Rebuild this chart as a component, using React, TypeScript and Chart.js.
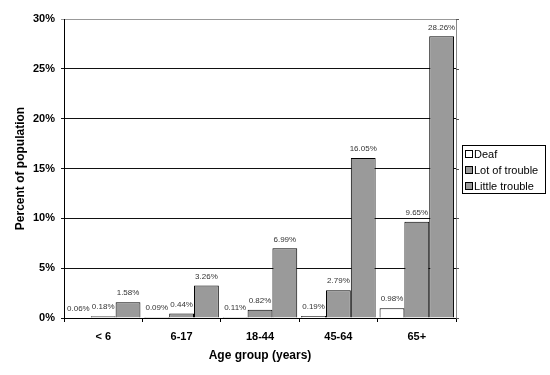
import React, { useEffect, useRef } from "react";
import { Chart, registerables } from "chart.js";

Chart.register(...registerables);

const categories = ["< 6", "6-17", "18-44", "45-64", "65+"];
const deaf = [0.06, 0.09, 0.11, 0.19, 0.98];
const lotOfTrouble = [0.18, 0.44, 0.82, 2.79, 9.65];
const littleTrouble = [1.58, 3.26, 6.99, 16.05, 28.26];
const seriesNames = ["Deaf", "Lot of trouble", "Little trouble"];
const yTicks = [0, 5, 10, 15, 20, 25, 30];

const FONT = "'Liberation Sans', Arial, sans-serif";
const fills = ["#ffffff", "#9a9a9a", "#9a9a9a"];

const labelsPlugin = {
  id: "valueLabels",
  afterDatasetsDraw(chart: any) {
    const ctx = chart.ctx;
    ctx.save();
    ctx.font = `8px ${FONT}`;
    ctx.fillStyle = "#333";
    ctx.textAlign = "center";
    ctx.textBaseline = "middle";
    chart.data.datasets.forEach((ds: any, i: number) => {
      const meta = chart.getDatasetMeta(i);
      meta.data.forEach((el: any, j: number) => {
        ctx.fillText(ds.data[j].toFixed(2) + "%", el.x, el.y - 9);
      });
    });
    ctx.restore();
  },
};

const framePlugin = {
  id: "frameLegend",
  afterDraw(chart: any) {
    const ctx = chart.ctx;
    const a = chart.chartArea;
    const y = chart.scales.y;
    ctx.save();
    ctx.strokeStyle = "#888";
    ctx.lineWidth = 1;
    ctx.beginPath();
    ctx.moveTo(Math.round(a.right) + 0.5, a.top);
    ctx.lineTo(Math.round(a.right) + 0.5, a.bottom);
    ctx.stroke();
    ctx.strokeStyle = "#555";
    yTicks.forEach((t) => {
      const py = Math.round(y.getPixelForValue(t)) + 0.5;
      ctx.beginPath();
      ctx.moveTo(a.right, py);
      ctx.lineTo(a.right + 3, py);
      ctx.stroke();
    });
    // legend
    const bx = 462.5, by = 145.5, bw = 83, bh = 48;
    ctx.strokeStyle = "#000";
    ctx.fillStyle = "#fff";
    ctx.fillRect(bx, by, bw, bh);
    ctx.strokeRect(bx, by, bw, bh);
    ctx.font = `11px ${FONT}`;
    ctx.textBaseline = "middle";
    ctx.textAlign = "left";
    seriesNames.forEach((name, i) => {
      const cy = 154 + i * 16;
      ctx.fillStyle = fills[i];
      ctx.fillRect(465.5, cy - 3.5, 7, 7);
      ctx.strokeStyle = "#000";
      ctx.strokeRect(465.5, cy - 3.5, 7, 7);
      ctx.fillStyle = "#000";
      ctx.fillText(name, 474, cy + 0.5);
    });
    ctx.restore();
  },
};

export default function App() {
  const ref = useRef<HTMLCanvasElement>(null);
  useEffect(() => {
    if (!ref.current) return;
    const chart = new Chart(ref.current, {
      type: "bar",
      data: {
        labels: categories,
        datasets: [
          { label: seriesNames[0], data: deaf, backgroundColor: fills[0], borderColor: "#000", borderWidth: 1 },
          { label: seriesNames[1], data: lotOfTrouble, backgroundColor: fills[1], borderColor: "#000", borderWidth: 1 },
          { label: seriesNames[2], data: littleTrouble, backgroundColor: fills[2], borderColor: "#000", borderWidth: 1 },
        ],
      },
      options: {
        animation: false,
        responsive: false,
        maintainAspectRatio: false,
        layout: { padding: { top: 19, right: 94, left: 0, bottom: 0 } },
        datasets: { bar: { categoryPercentage: 0.95, barPercentage: 1 } },
        plugins: { legend: { display: false }, tooltip: { enabled: false } },
        scales: {
          x: {
            grid: { offset: true, drawOnChartArea: false, tickLength: 4, color: "#000" },
            border: { color: "#000" },
            ticks: { color: "#000", font: { family: FONT, size: 11, weight: "bold" }, padding: 8, maxRotation: 0 },
            title: { display: true, text: "Age group (years)", color: "#000", font: { family: FONT, size: 12, weight: "bold" }, padding: { bottom: 12, top: 0 } },
            afterFit: (s: any) => { s.height = 57; },
          },
          y: {
            min: 0,
            max: 30,
            afterBuildTicks: (s: any) => { s.ticks = yTicks.map((v) => ({ value: v })); },
            grid: {
              color: (c: any) => (c.tick && c.tick.value === 30 ? "#999" : "#111"),
              tickLength: 3,
            },
            border: { color: "#000" },
            ticks: { color: "#000", font: { family: FONT, size: 11, weight: "bold" }, padding: 6, callback: (v: any) => v + "%" },
            title: { display: true, text: "Percent of population", color: "#000", font: { family: FONT, size: 12, weight: "bold" }, padding: { top: 13, bottom: 0 } },
            afterFit: (s: any) => { s.width = 64; },
          },
        },
      },
      plugins: [labelsPlugin, framePlugin],
    } as any);
    return () => chart.destroy();
  }, []);
  return (
    <div style={{ position: "fixed", left: 0, top: 0, width: 550, height: 375, background: "#fff" }}>
      <canvas ref={ref} width={550} height={375} />
    </div>
  );
}
